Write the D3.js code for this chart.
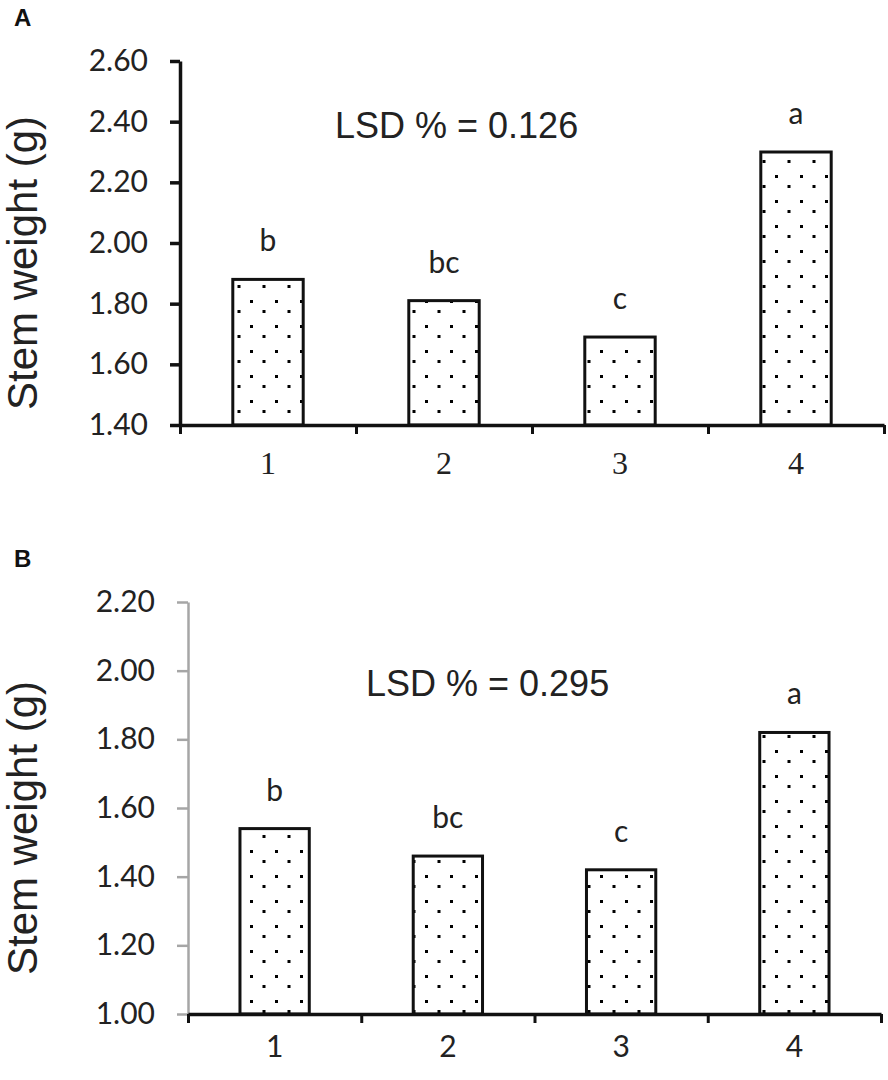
<!DOCTYPE html>
<html>
<head>
<meta charset="utf-8">
<script src="https://cdn.jsdelivr.net/npm/d3@7"></script>
<style>
  body { margin: 0; background: #fff; }
  svg { display: block; }
</style>
</head>
<body>
<svg id="chart" width="888" height="1080"></svg>
<script>
// data
const categories = ["1", "2", "3", "4"];
const stemA = [1.88, 1.81, 1.69, 2.30];
const stemB = [1.54, 1.46, 1.42, 1.82];
const lettersA = ["b", "bc", "c", "a"];
const lettersB = ["b", "bc", "c", "a"];
const ticksA = [1.40, 1.60, 1.80, 2.00, 2.20, 2.40, 2.60];
const ticksB = [1.00, 1.20, 1.40, 1.60, 1.80, 2.00, 2.20];
const lsdA = "LSD % = 0.126";
const lsdB = "LSD % = 0.295";

var svg = d3.select("#chart");

// dotted fill like the excel pattern
var pat = svg.append("defs").append("pattern")
  .attr("id", "dots")
  .attr("patternUnits", "userSpaceOnUse")
  .attr("width", 25).attr("height", 25);
pat.append("rect").attr("width", 25).attr("height", 25).attr("fill", "#fff");
pat.append("rect").attr("x", 0).attr("y", 0).attr("width", 3).attr("height", 3).attr("fill", "#000");
pat.append("rect").attr("x", 12.5).attr("y", 10).attr("width", 3).attr("height", 3).attr("fill", "#000");

function panel(o) {
  var g = svg.append("g");
  var x = d3.scaleBand().domain(categories)
    .range([o.left, o.right]).paddingInner(0.6).paddingOuter(0.3);
  var xb = d3.scaleLinear().domain([0, categories.length]).range([o.left, o.right]);
  var y = d3.scaleLinear().domain([o.ticks[0], o.ticks[o.ticks.length - 1]])
    .range([o.bottom, o.top]);

  // bars
  g.selectAll("rect.bar").data(o.values).enter().append("rect")
    .attr("class", "bar")
    .attr("x", (d, i) => x(categories[i]))
    .attr("y", d => y(d))
    .attr("width", x.bandwidth())
    .attr("height", d => y(o.ticks[0]) - y(d))
    .attr("fill", "url(#dots)")
    .attr("stroke", "#111")
    .attr("stroke-width", 3);

  // y axis
  var ya = g.append("g").attr("transform", "translate(" + o.left + ",0)")
    .call(d3.axisLeft(y).tickValues(o.ticks).tickFormat(d3.format(".2f"))
      .tickSize(o.ytick).tickPadding(o.ypad).tickSizeOuter(0));
  ya.select(".domain").attr("stroke", o.ycolor).attr("stroke-width", o.ywidth);
  ya.selectAll(".tick line").attr("stroke", o.ycolor).attr("stroke-width", o.ywidth);
  ya.selectAll("text").attr("font-family", "Lato, 'Open Sans', sans-serif")
    .attr("font-size", 30).attr("fill", "#222");

  // x axis: boundary ticks
  var xa = g.append("g").attr("transform", "translate(0," + o.bottom + ")")
    .call(d3.axisBottom(xb).tickValues(d3.range(categories.length + 1))
      .tickFormat("").tickSize(9).tickSizeOuter(0));
  xa.select(".domain").attr("stroke", "#111").attr("stroke-width", 3.5);
  xa.selectAll(".tick line").attr("stroke", "#111").attr("stroke-width", 3);

  // category labels
  var xl = g.append("g").attr("transform", "translate(0," + o.bottom + ")")
    .call(d3.axisBottom(x).tickSize(0).tickPadding(o.xpad));
  xl.select(".domain").remove();
  xl.selectAll("text").attr("font-family", o.xfont).attr("font-size", o.xsize).attr("fill", "#222");

  // significance letters
  g.selectAll("text.sig").data(o.letters).enter().append("text")
    .attr("class", "sig")
    .attr("x", (d, i) => x(categories[i]) + x.bandwidth() / 2)
    .attr("y", (d, i) => y(o.values[i]) - 28)
    .attr("text-anchor", "middle")
    .attr("font-family", "Lato, 'Open Sans', sans-serif")
    .attr("font-size", 30)
    .attr("fill", "#222")
    .text(d => d);

  // LSD note
  g.append("text")
    .attr("x", o.lsdX).attr("y", o.lsdY)
    .attr("font-family", "'Liberation Sans', Arial, sans-serif")
    .attr("font-size", 36)
    .attr("fill", "#222")
    .text(o.lsd);

  // axis title
  g.append("text")
    .attr("transform", "translate(37," + ((o.top + o.bottom) / 2 + 20) + ") rotate(-90)")
    .attr("text-anchor", "middle")
    .attr("font-family", "'Liberation Sans', Arial, sans-serif")
    .attr("font-size", 42)
    .attr("fill", "#222")
    .text("Stem weight (g)");

  // panel letter
  g.append("text")
    .attr("x", 14).attr("y", o.labelY)
    .attr("font-family", "'Liberation Sans', Arial, sans-serif")
    .attr("font-weight", "bold")
    .attr("font-size", 24)
    .attr("fill", "#111")
    .text(o.label);
}

panel({
  label: "A", labelY: 26,
  values: stemA, letters: lettersA, ticks: ticksA, lsd: lsdA,
  left: 180, right: 884, top: 61, bottom: 425,
  ycolor: "#111", ywidth: 3.5, ytick: 10, ypad: 22,
  xfont: "'Liberation Serif', 'Times New Roman', serif", xsize: 32, xpad: 26,
  lsdX: 335, lsdY: 138
});

panel({
  label: "B", labelY: 567,
  values: stemB, letters: lettersB, ticks: ticksB, lsd: lsdB,
  left: 188, right: 881, top: 602, bottom: 1014,
  ycolor: "#a6a6a6", ywidth: 2.5, ytick: 11, ypad: 22,
  xfont: "Lato, 'Open Sans', sans-serif", xsize: 30, xpad: 22,
  lsdX: 366, lsdY: 696
});
</script>
</body>
</html>
